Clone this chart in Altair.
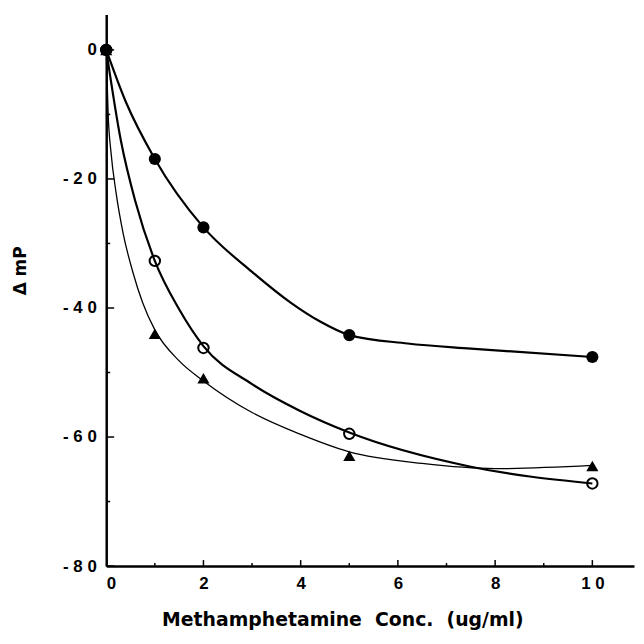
import altair as alt
import pandas as pd

# Measured data points (markers)
conc = [0, 1, 2, 5, 10]
filled_circle = [0, -16.9, -27.5, -44.2, -47.6]
open_circle = [0, -32.7, -46.2, -59.5, -67.2]
triangle = [0, -44.0, -50.9, -62.9, -64.5]

# Drawn (fitted) curves
filled_curve_x = [0, 0.4, 1.0, 2.0, 3.0, 3.8, 4.4, 5.0, 6.2, 7.5, 10]
filled_curve_y = [0, -8.0, -16.9, -27.5, -34.4, -39.2, -42.1, -44.2, -45.5, -46.3, -47.6]
open_curve_x = [0, 0.3, 0.6, 1.0, 1.5, 2.0, 3.0, 4.0, 5.0, 7.5, 10]
open_curve_y = [0, -14.0, -23.5, -32.7, -40.2, -45.9, -51.8, -56.0, -59.3, -64.6, -67.2]
tri_curve_x = [0, 0.04, 0.1, 0.2, 0.35, 0.55, 0.75, 1.0, 1.5, 2.0, 3.0, 4.0, 5.0, 6.5, 8.0, 10]
tri_curve_y = [0, -10.0, -16.0, -22.0, -28.5, -34.5, -39.2, -43.4, -48.2, -51.3, -56.2, -59.6, -62.3, -64.1, -64.9, -64.4]

x_labels = [0, 2, 4, 6, 8, 10]
x_major = [2, 4, 6, 8, 10]
x_minor = [1, 3, 5, 7, 9]
y_major = [0, -20, -40, -60, -80]
y_minor = [-10, -30, -50, -70]

X_DOM = [0, 10.857]
Y_DOM = [-80, 5.5]

pts = pd.DataFrame({
    "conc": conc * 3,
    "dmp": filled_circle + open_circle + triangle,
    "series": ["filled"] * 5 + ["open"] * 5 + ["tri"] * 5,
})
curves = pd.DataFrame({
    "conc": filled_curve_x + open_curve_x + tri_curve_x,
    "dmp": filled_curve_y + open_curve_y + tri_curve_y,
    "series": ["filled"] * len(filled_curve_x) + ["open"] * len(open_curve_x)
    + ["tri"] * len(tri_curve_x),
})

FONT = "DejaVu Sans"
LFONT = "Liberation Sans"
spaced = "join(split(toString(datum.value), ''), ' ')"

xs = alt.Scale(domain=X_DOM, nice=False, zero=False)
ys = alt.Scale(domain=Y_DOM, nice=False, zero=False)

x_axis = alt.Axis(values=x_labels, ticks=False, grid=False,
                  domainColor="black", domainWidth=2.5,
                  labelFont=LFONT, labelFontSize=17, labelFontWeight="bold",
                  labelColor="black", labelPadding=10, labelExpr=spaced,
                  title="Methamphetamine\u00a0\u00a0Conc.\u00a0\u00a0(ug/ml)",
                  titleFont=FONT, titleFontSize=19, titleFontWeight="bold",
                  titleColor="black", titlePadding=19, titleX=238)
y_axis = alt.Axis(values=y_major, ticks=False, grid=False,
                  domainColor="black", domainWidth=2.5,
                  labelFont=LFONT, labelFontSize=17, labelFontWeight="bold",
                  labelColor="black", labelPadding=10, labelExpr=spaced,
                  title="Δ mP", titleFont=FONT, titleFontSize=17,
                  titleFontWeight="bold", titleColor="black",
                  titleX=-77, titleY=258)

X = alt.X("conc:Q", scale=xs, axis=x_axis)
Y = alt.Y("dmp:Q", scale=ys, axis=y_axis)


def line(series, width):
    return alt.Chart(curves).transform_filter(alt.datum.series == series).mark_line(
        color="black", strokeWidth=width, interpolate="monotone"
    ).encode(x=X, y=Y)


lines = [line("filled", 2.2), line("open", 2.2), line("tri", 1.3)]

base = alt.Chart(pts)
pts_filled = base.transform_filter(alt.datum.series == "filled").mark_point(
    shape="circle", filled=True, color="black", size=150, opacity=1
).encode(x="conc:Q", y="dmp:Q")
pts_open = base.transform_filter(alt.datum.series == "open").mark_point(
    shape="circle", filled=False, color="black", strokeWidth=2, size=110, opacity=1
).encode(x="conc:Q", y="dmp:Q")
pts_tri = base.transform_filter(alt.datum.series == "tri").mark_point(
    shape="triangle-up", filled=True, color="black", size=150, opacity=1
).encode(x="conc:Q", y="dmp:Q")


def yticks(vals, length):
    return alt.Chart(pd.DataFrame({"v": vals})).mark_rule(
        color="black", strokeWidth=1.5, x2Offset=length
    ).encode(x=alt.datum(0), x2=alt.datum(0), y="v:Q")


def xticks(vals, length):
    return alt.Chart(pd.DataFrame({"v": vals})).mark_rule(
        color="black", strokeWidth=1.5, y2Offset=-length
    ).encode(y=alt.datum(-80), y2=alt.datum(-80), x="v:Q")


chart = alt.layer(
    *lines, pts_filled, pts_open, pts_tri,
    yticks(y_major, 8), yticks(y_minor, 4),
    xticks(x_major, 6), xticks(x_minor, 3),
).properties(
    width=532, height=556,
    padding={"left": 99, "top": 4, "right": 2, "bottom": 66},
    autosize="none",
).configure(background="white").configure_view(stroke=None)

chart.save("out.html", embed_options={"renderer": "svg", "actions": False})
